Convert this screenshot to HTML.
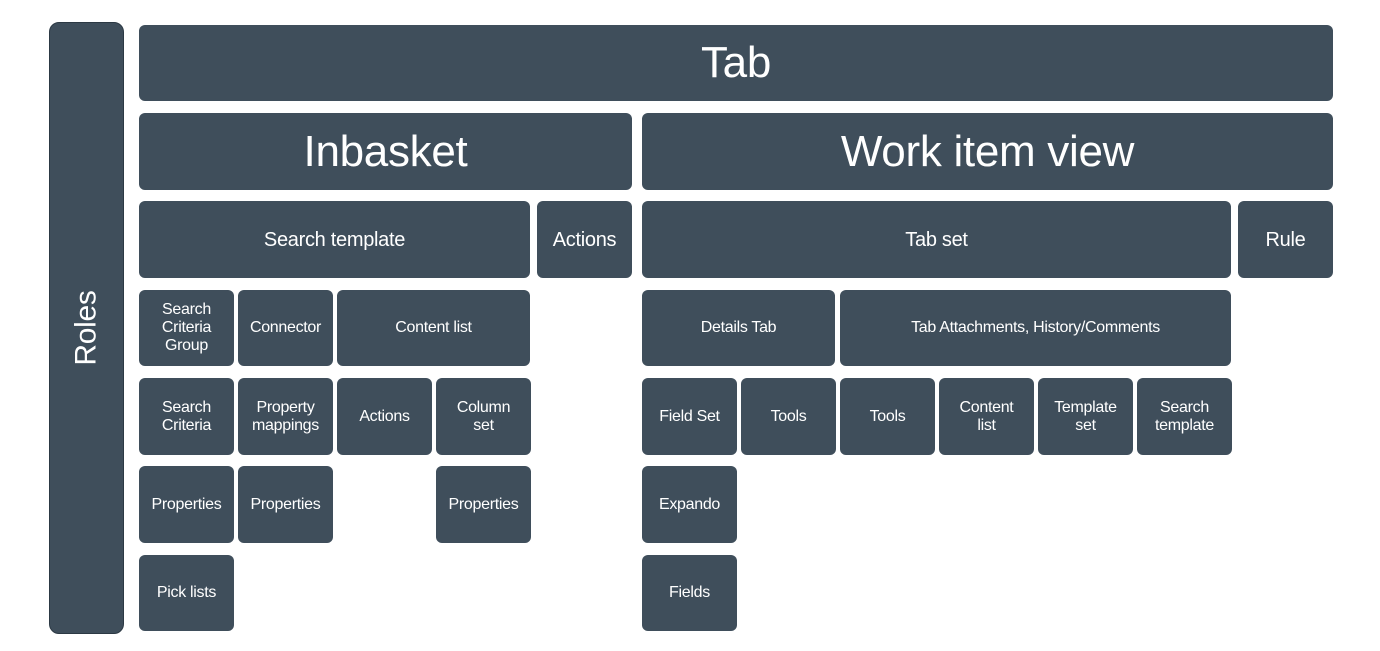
<!DOCTYPE html>
<html><head><style>
html,body{margin:0;padding:0;background:#fff;width:1380px;height:651px;overflow:hidden}
.b{position:absolute;background:#3f4e5b;border-radius:6px;color:#fff;display:flex;align-items:center;justify-content:center;text-align:center;font-family:"Liberation Sans",sans-serif;font-size:16px;line-height:18px;letter-spacing:-0.3px}
.l{font-size:44px;line-height:48px}
.m{font-size:20px}
</style></head><body>
<div class="b" style="left:49px;top:22px;width:73px;height:610px;border:1px solid #2c3944;border-radius:10px"><div style="transform:rotate(-90deg);font-size:30px;white-space:nowrap">Roles</div></div>
<div class="b l" style="left:139px;top:25px;width:1194px;height:76px">Tab</div>
<div class="b l" style="left:139px;top:113px;width:493px;height:77px">Inbasket</div>
<div class="b l" style="left:642px;top:113px;width:691px;height:77px">Work item view</div>
<div class="b m" style="left:139px;top:201px;width:391px;height:77px">Search template</div>
<div class="b m" style="left:537px;top:201px;width:95px;height:77px">Actions</div>
<div class="b m" style="left:642px;top:201px;width:589px;height:77px">Tab set</div>
<div class="b m" style="left:1238px;top:201px;width:95px;height:77px">Rule</div>

<div class="b" style="left:139px;top:290px;width:95px;height:76px">Search<br>Criteria<br>Group</div>
<div class="b" style="left:238px;top:290px;width:95px;height:76px">Connector</div>
<div class="b" style="left:337px;top:290px;width:193px;height:76px">Content list</div>
<div class="b" style="left:642px;top:290px;width:193px;height:76px">Details Tab</div>
<div class="b" style="left:840px;top:290px;width:391px;height:76px">Tab Attachments, History/Comments</div>

<div class="b" style="left:139px;top:378px;width:95px;height:77px">Search<br>Criteria</div>
<div class="b" style="left:238px;top:378px;width:95px;height:77px">Property<br>mappings</div>
<div class="b" style="left:337px;top:378px;width:95px;height:77px">Actions</div>
<div class="b" style="left:436px;top:378px;width:95px;height:77px">Column<br>set</div>
<div class="b" style="left:642px;top:378px;width:95px;height:77px">Field Set</div>
<div class="b" style="left:741px;top:378px;width:95px;height:77px">Tools</div>
<div class="b" style="left:840px;top:378px;width:95px;height:77px">Tools</div>
<div class="b" style="left:939px;top:378px;width:95px;height:77px">Content<br>list</div>
<div class="b" style="left:1038px;top:378px;width:95px;height:77px">Template<br>set</div>
<div class="b" style="left:1137px;top:378px;width:95px;height:77px">Search<br>template</div>

<div class="b" style="left:139px;top:466px;width:95px;height:77px">Properties</div>
<div class="b" style="left:238px;top:466px;width:95px;height:77px">Properties</div>
<div class="b" style="left:436px;top:466px;width:95px;height:77px">Properties</div>
<div class="b" style="left:642px;top:466px;width:95px;height:77px">Expando</div>

<div class="b" style="left:139px;top:555px;width:95px;height:76px">Pick lists</div>
<div class="b" style="left:642px;top:555px;width:95px;height:76px">Fields</div>
</body></html>
